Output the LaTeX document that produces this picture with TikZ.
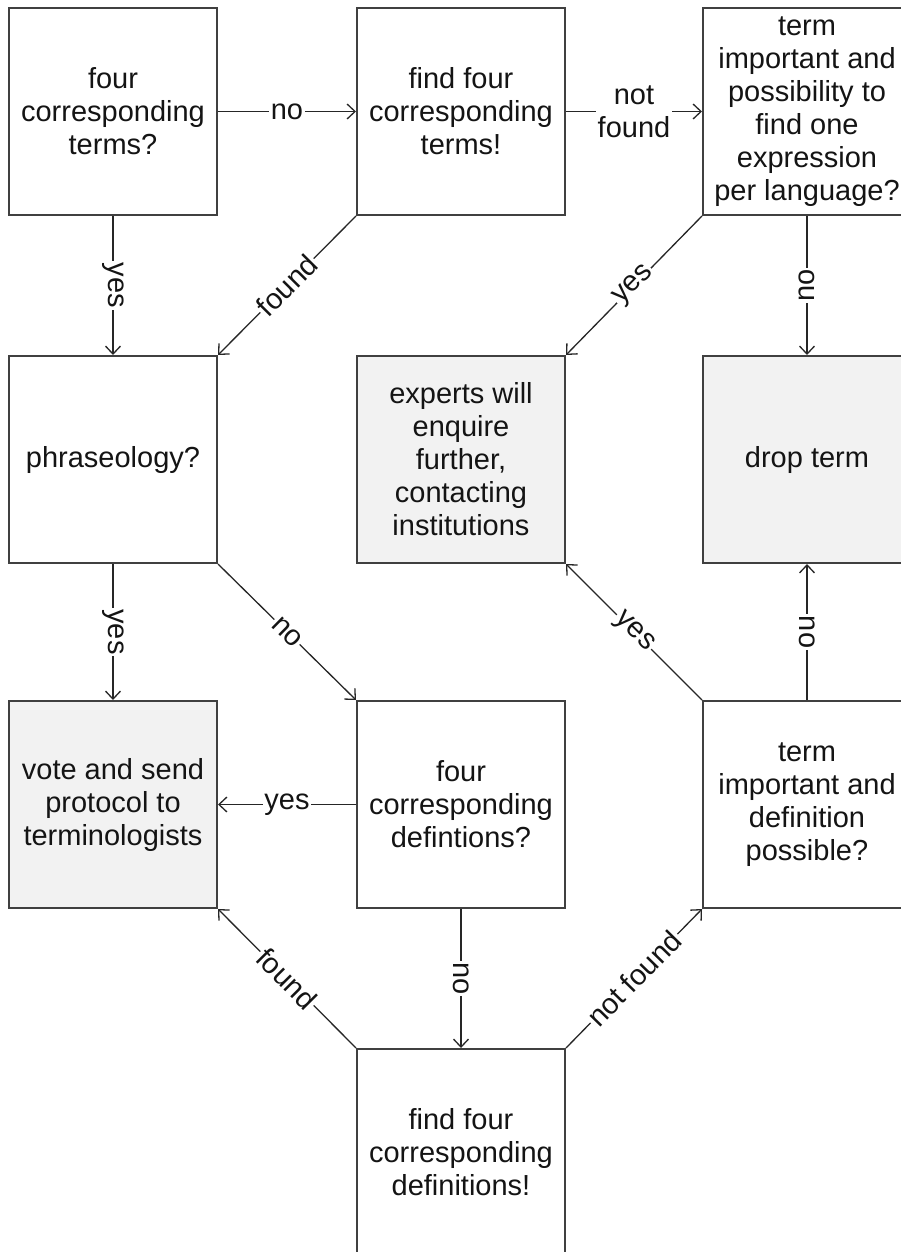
\documentclass[tikz,border=0pt]{standalone}
\usepackage{fontspec}
\setmainfont{Liberation Sans}
\usetikzlibrary{arrows.meta}
\definecolor{boxc}{HTML}{404040}
\definecolor{linec}{HTML}{262626}
\definecolor{grayf}{HTML}{F2F2F2}
\definecolor{txt}{HTML}{141414}
\begin{document}
\begin{tikzpicture}[x=1pt,y=-1pt,
  box/.style={draw=boxc, line width=2pt, minimum width=208pt, minimum height=207pt,
    inner sep=0pt, align=center, font=\fontsize{29}{33}\selectfont, text=txt},
  gbox/.style={box, fill=grayf},
  conn/.style={draw=linec, line width=1.3pt, -{Straight Barb[length=8pt,width=15pt]}},
  lab/.style={fill=white, inner sep=1.5pt, font=\fontsize{29}{33}\selectfont, text=txt, align=center}]
\useasboundingbox (0,0) rectangle (901,1252);
\fill[white] (0,0) rectangle (901,1252);
\begin{scope}
\clip (0,0) rectangle (901,1252);
\node[box]  (A) at (113,111.5) {four\\corresponding\\terms?};
\node[box]  (B) at (461,111.5) {find four\\corresponding\\terms!};
\node[box]  (C) at (807,111.5) {term\\important and\\possibility to\\find one\\expression\\per language?};
\node[box]  (D) at (113,459.5) {phraseology?};
\node[gbox] (E) at (461,459.5) {experts will\\enquire\\further,\\contacting\\institutions};
\node[gbox] (F) at (807,459.5) {drop term};
\node[gbox] (G) at (113,804.5) {vote and send\\protocol to\\terminologists};
\node[box]  (H) at (461,804.5) {four\\corresponding\\defintions?};
\node[box]  (I) at (807,804.5) {term\\important and\\definition\\possible?};
\node[box]  (J) at (461,1152.5) {find four\\corresponding\\definitions!};

\draw[conn] (A) -- node[lab]{no} (B);
\draw[conn] (B) -- node[lab]{not\\found} (C);
\draw[conn] (A) -- node[lab,rotate=-90]{yes} (D);
\draw[conn] (B.south west) -- node[lab,sloped]{found} (D.north east);
\draw[conn] (C.south west) -- node[lab,sloped]{yes} (E.north east);
\draw[conn] (C) -- node[lab,rotate=90]{no} (F);
\draw[conn] (D) -- node[lab,rotate=-90]{yes} (G);
\draw[conn] (D.south east) -- node[lab,sloped]{no} (H.north west);
\draw[conn] (H) -- node[lab]{yes} (G);
\draw[conn] (H) -- node[lab,rotate=-90]{no} (J);
\draw[conn] (J.north west) -- node[lab,sloped]{found} (G.south east);
\draw[conn] (J.north east) -- node[lab,sloped]{not found} (I.south west);
\draw[conn] (I.north west) -- node[lab,sloped]{yes} (E.south east);
\draw[conn] (I) -- node[lab,rotate=-90]{no} (F);
\end{scope}
\end{tikzpicture}
\end{document}
